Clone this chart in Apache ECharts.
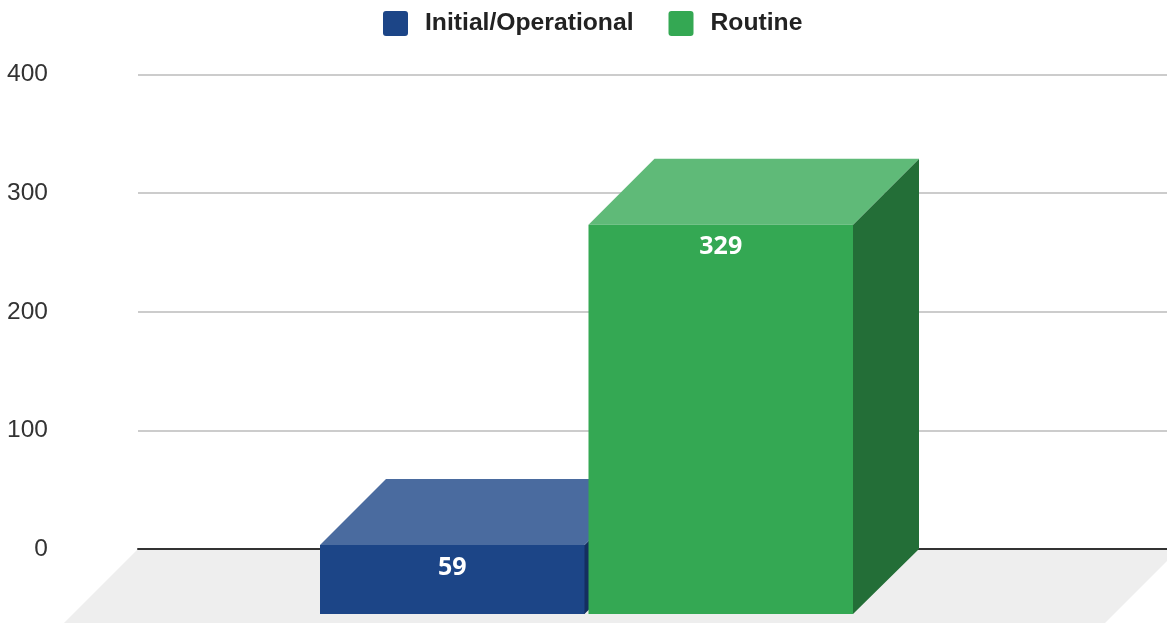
<!DOCTYPE html>
<html>
<head>
<meta charset="utf-8">
<style>html,body{margin:0;padding:0;background:#fff;overflow:hidden}#c{width:1167px;height:623px}</style>
<script src="https://cdn.jsdelivr.net/npm/echarts@6/dist/echarts.min.js"></script>
</head>
<body>
<div id="c"></div>
<script>
const categories = ["Training"];
const seriesNames = ["Initial/Operational", "Routine"];
const initialValues = [59];
const routineValues = [329];
const yTicks = [0, 100, 200, 300, 400];
const frontColors = ["#1c4587", "#34a853"];
const topColors = ["#4a6b9f", "#5fba78"];
const sideColors = ["#142f5f", "#236e37"];

const DEPTH = 66, BOTTOM_DEPTH = 65, BAR_W = 264.5, GAP = 4, FLOOR_RIGHT = 12, FLOOR_D = 74;
const LEGEND_ICON = 'path://M3,0H22A3,3,0,0,1,25,3V22A3,3,0,0,1,22,25H3A3,3,0,0,1,0,22V3A3,3,0,0,1,3,0Z';

function barRender(idx) {
  return function (params, api) {
    const v = api.value(1);
    const top = api.coord([api.value(0), v]);
    const base = api.coord([api.value(0), 0]);
    const cx = top[0];
    const xb = idx === 0 ? cx - GAP / 2 - BAR_W : cx + GAP / 2;
    const yt = top[1], yb = base[1];
    const f = DEPTH;
    const xf = xb - f;
    const yfBottom = yb + BOTTOM_DEPTH;
    return {
      type: 'group',
      children: [
        { type: 'polygon', shape: { points: [[xf + BAR_W - 1, yt + f], [xf + BAR_W, yt + f], [xb + BAR_W, yt], [xb + BAR_W, yb], [xf + BAR_W, yfBottom], [xf + BAR_W - 1, yfBottom]] },
          style: { fill: sideColors[idx] } },
        { type: 'polygon', shape: { points: [[xf, yt + f], [xb, yt], [xb + BAR_W, yt], [xf + BAR_W, yt + f]] },
          style: { fill: topColors[idx] } },
        { type: 'rect', shape: { x: xf, y: yt + f, width: BAR_W, height: yfBottom - yt - f },
          style: { fill: frontColors[idx] } },
        { type: 'text', x: xf + BAR_W / 2, y: yt + f + 22.5,
          style: { text: String(v), fill: '#ffffff', align: 'center', verticalAlign: 'middle',
                   font: 'bold 25px "Noto Sans"' } }
      ]
    };
  };
}

function floorRender(params, api) {
  const cs = params.coordSys;
  const y = api.coord([0, 0])[1];
  const x0 = cs.x, x1 = cs.x + cs.width + FLOOR_RIGHT;
  return {
    type: 'polygon',
    shape: { points: [[x0, y], [x1, y], [x1 - FLOOR_D, y + FLOOR_D], [x0 - FLOOR_D, y + FLOOR_D]] },
    style: { fill: '#eeeeee' }
  };
}

const chart = echarts.init(document.getElementById('c'), null, { renderer: 'canvas' });
chart.setOption({
  animation: false,
  backgroundColor: '#ffffff',
  legend: {
    left: 378, top: 6, itemWidth: 25, itemHeight: 25, itemGap: 35, icon: LEGEND_ICON,
    data: seriesNames,
    textStyle: { fontFamily: 'Liberation Sans', fontWeight: 'bold', fontSize: 24.7, color: '#222222', padding: [0, 0, 0, 12] }
  },
  grid: { left: 138, right: 0, top: 74.5, height: 474.5 },
  xAxis: {
    type: 'category', data: categories, z: 2,
    axisLine: { lineStyle: { color: '#333333', width: 2 } },
    axisTick: { show: false }, axisLabel: { show: false }, splitLine: { show: false }
  },
  yAxis: {
    type: 'value', min: yTicks[0], max: yTicks[yTicks.length - 1], interval: yTicks[1] - yTicks[0], z: 2,
    axisLine: { show: false }, axisTick: { show: false },
    axisLabel: { margin: 90, fontFamily: 'Liberation Sans', fontSize: 24.5, color: '#333333' },
    splitLine: { lineStyle: { color: '#cccccc', width: 2 } }
  },
  series: [
    { type: 'custom', name: 'Floor', z: 1, silent: true, renderItem: floorRender, data: [[0, 0]], clip: false },
    { type: 'custom', name: seriesNames[0], z: 5, renderItem: barRender(0), itemStyle: { color: frontColors[0] },
      data: initialValues.map((v, i) => [i, v]), clip: false },
    { type: 'custom', name: seriesNames[1], z: 6, renderItem: barRender(1), itemStyle: { color: frontColors[1] },
      data: routineValues.map((v, i) => [i, v]), clip: false }
  ]
});
</script>
</body>
</html>
